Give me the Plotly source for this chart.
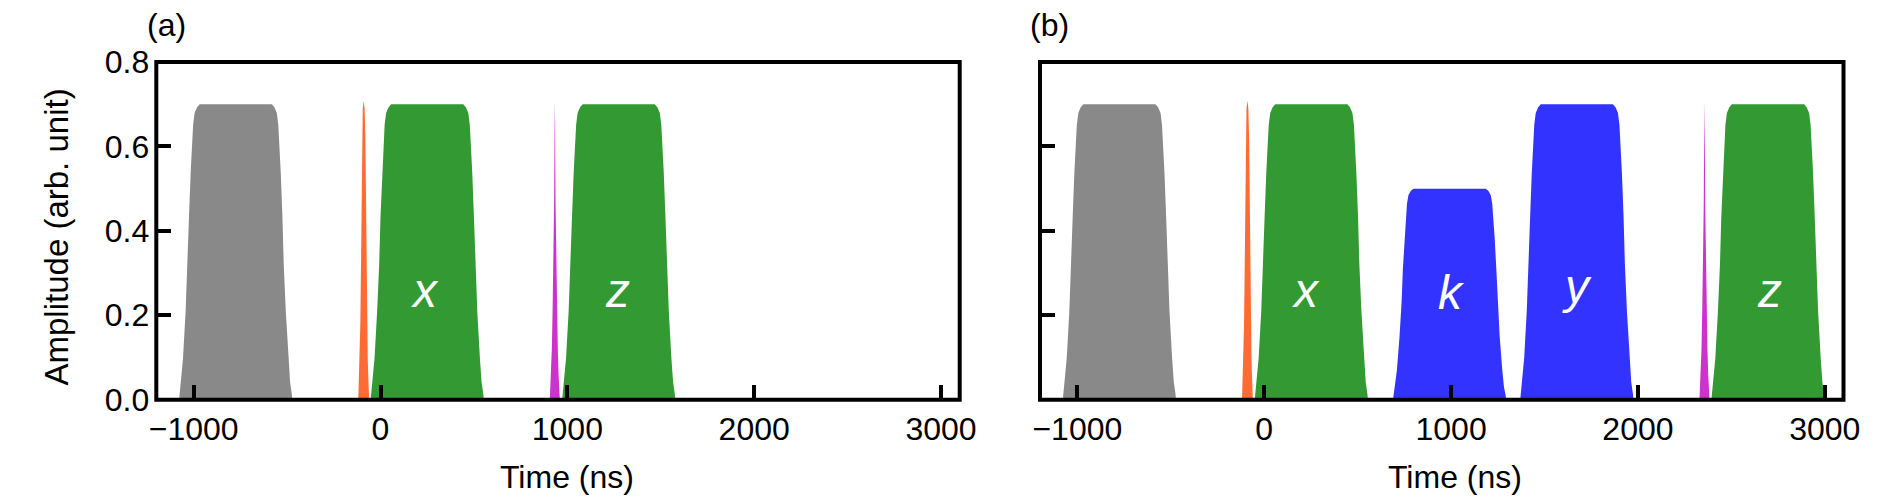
import plotly.graph_objects as go

# ---------------- data ----------------
x_range = [-1200, 3100]
y_range = [0.0, 0.8]
x_tickvals = [-1000, 0, 1000, 2000, 3000]
x_ticktext = ["\u22121000", "0", "1000", "2000", "3000"]
y_tickvals = [0.0, 0.2, 0.4, 0.6, 0.8]
y_ticktext = ["0.0", "0.2", "0.4", "0.6", "0.8"]

# flat-top pulse: rising-edge profile (ns from pulse start, fraction of amplitude)
edge_dt = [0, 3, 12, 21, 35, 46, 53, 62, 67, 75, 83, 96, 110]
edge_frac = [0.0, 0.02, 0.06, 0.14, 0.30, 0.46, 0.62, 0.77, 0.85, 0.93, 0.97, 0.99, 1.0]
pulse_length = 606  # ns, full length of a flat-top pulse

# narrow spikes: profile (ns from centre, amplitude)
orange_dt = [-29, -25, -22, -18, -16, -13, -11, -9, -5, 0, 5, 9, 11, 13, 16, 18, 22, 25, 29]
orange_amp = [0.0, 0.05, 0.09, 0.18, 0.26, 0.41, 0.52, 0.62, 0.69, 0.708, 0.69, 0.62, 0.52, 0.41, 0.26, 0.18, 0.09, 0.05, 0.0]
magenta_dt = [-27, -20, -16, -12, -8, -4, -2, 0, 2, 4, 8, 12, 16, 20, 27]
magenta_amp = [0.0, 0.06, 0.12, 0.21, 0.32, 0.46, 0.60, 0.708, 0.60, 0.46, 0.32, 0.21, 0.12, 0.06, 0.0]

# panel (a)
a_pulse_centers = [-775, 250, 1275]
a_pulse_amps = [0.7, 0.7, 0.7]
a_pulse_kinds = ["readout", "xz", "xz"]
a_spike_centers = [-90, 933]
a_spike_kinds = ["orange", "magenta"]
a_labels = ["x", "z"]
a_label_t = [238, 1267]

# panel (b)
b_pulse_centers = [-775, 252, 992, 1673, 2696]
b_pulse_amps = [0.7, 0.7, 0.5, 0.7, 0.7]
b_pulse_kinds = ["readout", "xz", "ky", "ky", "xz"]
b_spike_centers = [-90, 2356]
b_spike_kinds = ["orange", "magenta"]
b_labels = ["x", "k", "y", "z"]
b_label_t = [222, 1004, 1674, 2704]

label_level = 0.25

# ---------------- styling ----------------
COLORS = {"readout": "#898989", "xz": "#339933", "ky": "#3333ff",
          "orange": "#ff6b33", "magenta": "#cc33cc"}
FONT = "Liberation Sans, Arial, Helvetica, sans-serif"
FS = 32


def pulse_outline(center, amp):
    start = center - pulse_length / 2
    end = center + pulse_length / 2
    xs = [start + d for d in edge_dt] + [end - d for d in reversed(edge_dt)]
    ys = [amp * f for f in edge_frac] + [amp * f for f in reversed(edge_frac)]
    return xs, ys


def spike_outline(center, kind):
    if kind == "orange":
        return [center + d for d in orange_dt], list(orange_amp)
    return [center + d for d in magenta_dt], list(magenta_amp)


fig = go.Figure()


def add_panel(centers, amps, kinds, spikes, spike_kinds, xa, ya):
    for c, a, k in zip(centers, amps, kinds):
        xs, ys = pulse_outline(c, a)
        fig.add_trace(go.Scatter(x=xs, y=ys, fill="toself", mode="lines",
                                 line=dict(width=0, color=COLORS[k]),
                                 fillcolor=COLORS[k], xaxis=xa, yaxis=ya,
                                 showlegend=False, hoverinfo="skip"))
    for c, k in zip(spikes, spike_kinds):
        xs, ys = spike_outline(c, k)
        fig.add_trace(go.Scatter(x=xs, y=ys, fill="toself", mode="lines",
                                 line=dict(width=0, color=COLORS[k]),
                                 fillcolor=COLORS[k], xaxis=xa, yaxis=ya,
                                 showlegend=False, hoverinfo="skip"))


add_panel(a_pulse_centers, a_pulse_amps, a_pulse_kinds, a_spike_centers, a_spike_kinds, "x", "y")
add_panel(b_pulse_centers, b_pulse_amps, b_pulse_kinds, b_spike_centers, b_spike_kinds, "x2", "y2")

W, H = 1890, 497
dom_a = [156.3 / W, 959.7 / W]
dom_b = [1040.0 / W, 1843.5 / W]
dom_y = [1 - 399.7 / H, 1 - 62.0 / H]

axis_common = dict(showgrid=False, zeroline=False, showline=False, automargin=False,
                   ticks="inside", ticklen=15, tickwidth=4, tickcolor="black",
                   tickfont=dict(family=FONT, size=FS, color="black"))

fig.update_layout(
    template="none",
    width=W, height=H,
    margin=dict(l=0, r=0, t=0, b=0, pad=0, autoexpand=False),
    paper_bgcolor="white", plot_bgcolor="white",
    font=dict(family=FONT, size=FS, color="black"),
    showlegend=False,
    xaxis=dict(domain=dom_a, range=x_range, anchor="y", ticklabelstandoff=7,
               tickmode="array", tickvals=x_tickvals, ticktext=x_ticktext, **axis_common),
    yaxis=dict(domain=dom_y, range=y_range, anchor="x", ticklabelstandoff=6,
               tickmode="array", tickvals=y_tickvals, ticktext=y_ticktext, **axis_common),
    xaxis2=dict(domain=dom_b, range=x_range, anchor="y2", ticklabelstandoff=7,
                tickmode="array", tickvals=x_tickvals, ticktext=x_ticktext, **axis_common),
    yaxis2=dict(domain=dom_y, range=y_range, anchor="x2", showticklabels=False,
                tickmode="array", tickvals=y_tickvals, ticktext=y_ticktext, **axis_common),
)

# frames
for xr, yr in (("x domain", "y domain"), ("x2 domain", "y2 domain")):
    fig.add_shape(type="rect", xref=xr, yref=yr, x0=0, x1=1, y0=0, y1=1,
                  line=dict(color="black", width=4), layer="above")

# pulse labels
yshift = {"x": 4, "z": 4, "k": 2, "y": 8}
for labs, ts, xr, yr in ((a_labels, a_label_t, "x", "y"), (b_labels, b_label_t, "x2", "y2")):
    for lab, t in zip(labs, ts):
        fig.add_annotation(x=t, y=label_level, xref=xr, yref=yr, text="<i>%s</i>" % lab,
                           showarrow=False, xanchor="center", yanchor="middle",
                           yshift=yshift[lab],
                           font=dict(family=FONT, size=48, color="white"))

# panel letters and axis titles
fig.add_annotation(x=166.7 / W, y=1 - 24.7 / H, xref="paper", yref="paper", text="(a)",
                   showarrow=False, xanchor="center", yanchor="middle", font=dict(size=FS))
fig.add_annotation(x=1049 / W, y=1 - 24.7 / H, xref="paper", yref="paper", text="(b)",
                   showarrow=False, xanchor="center", yanchor="middle", font=dict(size=FS))
fig.add_annotation(x=56 / W, y=1 - 237.5 / H, xref="paper", yref="paper",
                   text="Amplitude (arb. unit)", textangle=-90,
                   showarrow=False, xanchor="center", yanchor="middle", font=dict(size=33))
for cx in (567, 1455):
    fig.add_annotation(x=cx / W, y=1 - 477 / H, xref="paper", yref="paper", text="Time (ns)",
                       showarrow=False, xanchor="center", yanchor="middle", font=dict(size=FS))

fig.write_html("out.html",
               config={"displayModeBar": False, "staticPlot": True},
               post_script="document.body.style.margin='0';document.body.style.overflow='hidden';")
